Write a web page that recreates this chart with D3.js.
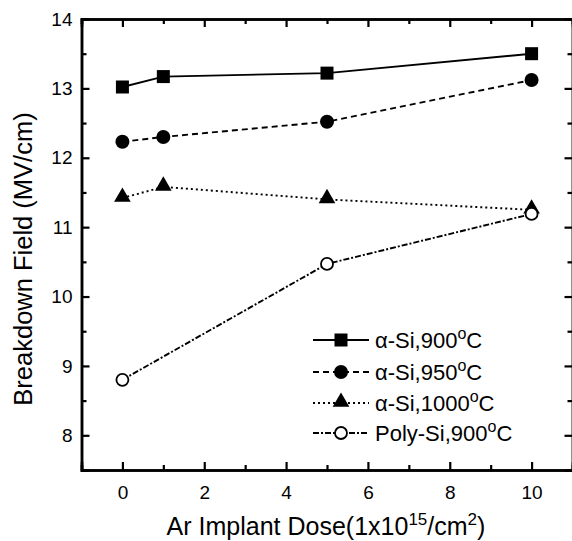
<!DOCTYPE html>
<html>
<head>
<meta charset="utf-8">
<script src="https://d3js.org/d3.v7.min.js"></script>
<style>
  body { margin: 0; background: #fff; }
  svg text { font-family: "Liberation Sans", Arial, sans-serif; fill: #000; }
</style>
</head>
<body>
<div id="chart"></div>
<script>
// data
var doses = [0, 1, 5, 10];
var si900 = [13.02, 13.17, 13.22, 13.5];
var si950 = [12.23, 12.30, 12.52, 13.12];
var si1000 = [11.42, 11.58, 11.40, 11.25];
var poly900 = [8.8, null, 10.47, 11.19];
var seriesNames = ["\u03b1-Si,900", "\u03b1-Si,950", "\u03b1-Si,1000", "Poly-Si,900"];
var xTicks = [0, 2, 4, 6, 8, 10];
var yTicks = [8, 9, 10, 11, 12, 13, 14];

var W = 572, H = 541;
var x = d3.scaleLinear().domain([-1, 11]).range([81.5, 572.5]);
var y = d3.scaleLinear().domain([7.5, 14]).range([470, 19]);

var svg = d3.select("#chart").append("svg").attr("width", W).attr("height", H);

var series = [
  {vals: si900, dash: null, marker: "square"},
  {vals: si950, dash: "6,4", marker: "circle"},
  {vals: si1000, dash: "2,3", marker: "triangle"},
  {vals: poly900, dash: "6,2,2,2", marker: "open"}
];

function drawMarker(g, type, cx, cy) {
  if (type == "square") {
    g.append("rect").attr("x", cx - 6.5).attr("y", cy - 6.5).attr("width", 13).attr("height", 13).attr("fill", "#000");
  } else if (type == "circle") {
    g.append("circle").attr("cx", cx).attr("cy", cy).attr("r", 7).attr("fill", "#000");
  } else if (type == "triangle") {
    g.append("path").attr("d", d3.symbol().type(d3.symbolTriangle).size(120)()).attr("transform", "translate(" + cx + "," + (cy - 1) + ")").attr("fill", "#000");
  } else {
    g.append("circle").attr("cx", cx).attr("cy", cy).attr("r", 6).attr("fill", "#fff").attr("stroke", "#000").attr("stroke-width", 1.8);
  }
}

var line = d3.line()
  .x(function(d){ return x(d[0]); }).y(function(d){ return y(d[1]); });

series.forEach(function(s) {
  var pts = doses.map(function(d, i){ return [d, s.vals[i]]; }).filter(function(p){ return p[1] != null; });
  svg.append("path").datum(pts).attr("d", line).attr("fill", "none").attr("stroke", "#000")
    .attr("stroke-width", 1.9).attr("stroke-dasharray", s.dash);
  var g = svg.append("g");
  pts.forEach(function(p){ drawMarker(g, s.marker, x(p[0]), y(p[1])); });
});

// axes, ticks pointing inward on all four sides
var xMinor = d3.range(-1, 11.01, 1).filter(function(v){ return xTicks.indexOf(v) < 0; });
var yMinor = d3.range(7.5, 14, 1);

svg.append("g").attr("transform", "translate(0," + y(7.5) + ")")
  .call(d3.axisBottom(x).tickValues(xTicks).tickSize(-8).tickPadding(16).tickFormat(d3.format("d")));
svg.append("g").attr("transform", "translate(0," + y(7.5) + ")")
  .call(d3.axisBottom(x).tickValues(xMinor).tickSize(-5).tickFormat(""));
svg.append("g").attr("transform", "translate(0," + y(14) + ")")
  .call(d3.axisTop(x).tickValues(xTicks).tickSize(-8).tickFormat(""));
svg.append("g").attr("transform", "translate(0," + y(14) + ")")
  .call(d3.axisTop(x).tickValues(xMinor).tickSize(-5).tickFormat(""));
svg.append("g").attr("transform", "translate(" + x(-1) + ",0)")
  .call(d3.axisLeft(y).tickValues(yTicks).tickSize(-8).tickPadding(9).tickFormat(d3.format("d")));
svg.append("g").attr("transform", "translate(" + x(-1) + ",0)")
  .call(d3.axisLeft(y).tickValues(yMinor).tickSize(-5).tickFormat(""));
svg.append("g").attr("transform", "translate(" + x(11) + ",0)")
  .call(d3.axisRight(y).tickValues(yTicks).tickSize(-8).tickFormat(""));
svg.append("g").attr("transform", "translate(" + x(11) + ",0)")
  .call(d3.axisRight(y).tickValues(yMinor).tickSize(-5).tickFormat(""));

svg.selectAll(".domain").attr("stroke", "#000").attr("stroke-width", 2.5);
svg.selectAll(".tick line").attr("stroke", "#000").attr("stroke-width", 2.2);
svg.selectAll(".tick text").style("font-size", "19px").style("font-family", "Liberation Sans, Arial, sans-serif");

// axis titles
svg.append("text").attr("transform", "translate(32," + 259 + ") rotate(-90)")
  .attr("text-anchor", "middle").style("font-size", "25.5px").text("Breakdown Field (MV/cm)");

var xt = svg.append("text").attr("x", 326).attr("y", 535).attr("text-anchor", "middle").style("font-size", "25px");
xt.append("tspan").text("Ar Implant Dose(1x10");
xt.append("tspan").attr("dy", -10).style("font-size", "17px").text("15");
xt.append("tspan").attr("dy", 10).text("/cm");
xt.append("tspan").attr("dy", -10).style("font-size", "17px").text("2");
xt.append("tspan").attr("dy", 10).text(")");

// legend
var legY = [340, 372, 403, 433];
series.forEach(function(s, i) {
  var g = svg.append("g");
  g.append("line").attr("x1", 313).attr("x2", 369).attr("y1", legY[i]).attr("y2", legY[i])
    .attr("stroke", "#000").attr("stroke-width", 1.9).attr("stroke-dasharray", s.dash);
  drawMarker(g, s.marker, 341, legY[i]);
  var t = g.append("text").attr("x", 375).attr("y", legY[i] + 8).style("font-size", "22px");
  t.append("tspan").text(seriesNames[i]);
  t.append("tspan").attr("dy", -9).style("font-size", "16px").text("o");
  t.append("tspan").attr("dy", 9).text("C");
});
</script>
</body>
</html>
